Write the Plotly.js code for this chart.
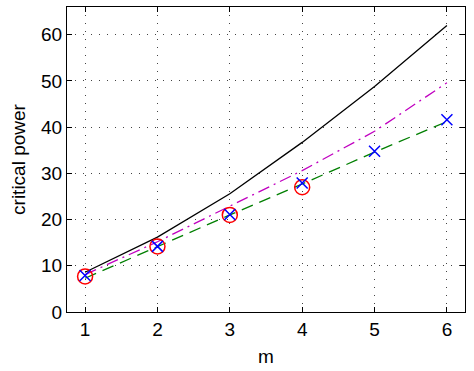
<!DOCTYPE html>
<html><head><meta charset="utf-8">
<script src="https://cdn.plot.ly/plotly-3.0.1.min.js"></script>
<style>html,body{margin:0;padding:0;background:#fff}#chart{width:474px;height:371px}</style>
</head><body><div id="chart"></div>
<script>
var mValues = [1, 2, 3, 4, 5, 6];
var blackSolid = [8.6, 16.2, 25.6, 36.7, 48.8, 62.0];
var magentaDashDot = [8.1, 15.2, 22.9, 30.6, 39.1, 49.6];
var greenDashed = [7.3, 14.2, 21.0, 27.7, 34.6, 41.2];
var blueCrosses = [7.9, 14.2, 21.1, 27.9, 34.8, 41.6];
var redCircleM = [1, 2, 3, 4];
var redCircles = [7.7, 14.2, 21.0, 27.0];
var xTicks = [1, 2, 3, 4, 5, 6];
var yTicks = [0, 10, 20, 30, 40, 50, 60];

var traces = [
  {x: mValues, y: blackSolid, mode: 'lines', line: {color: '#000000', width: 1.3}},
  {x: mValues, y: magentaDashDot, mode: 'lines', line: {color: '#c000c0', width: 1.3, dash: '12px,5px,2px,5px'}},
  {x: mValues, y: greenDashed, mode: 'lines', line: {color: '#007f00', width: 1.3, dash: '12px,7px'}},
  {x: redCircleM, y: redCircles, mode: 'markers', marker: {symbol: 'circle-open', size: 15, color: '#ff0000', line: {width: 1.5, color: '#ff0000'}}},
  {x: mValues, y: blueCrosses, mode: 'markers', marker: {symbol: 'x-thin-open', size: 11, color: '#0000ff', line: {width: 1.5, color: '#0000ff'}}}
];

var fontFam = 'Liberation Sans, Arial, sans-serif';
var axisCommon = {
  showline: true, linecolor: '#000', linewidth: 1, mirror: 'ticks',
  ticks: 'inside', ticklen: 5, tickcolor: '#000', tickwidth: 1,
  showgrid: true, gridcolor: '#444', gridwidth: 1, griddash: '1px,7px',
  zeroline: false, tickfont: {family: fontFam, size: 19, color: '#000'}
};

var layout = {
  width: 474, height: 371,
  margin: {l: 67, r: 9, t: 7, b: 59},
  paper_bgcolor: '#fff', plot_bgcolor: '#fff',
  showlegend: false,
  xaxis: Object.assign({}, axisCommon, {
    range: [0.75, 6.25], tickvals: xTicks, ticktext: xTicks.map(String),
    title: {text: 'm', font: {family: fontFam, size: 19, color: '#000'}, standoff: 10}
  }),
  yaxis: Object.assign({}, axisCommon, {
    range: [0, 66], tickvals: yTicks, ticktext: yTicks.map(String),
    title: {text: 'critical power', font: {family: fontFam, size: 19, color: '#000'}, standoff: 10}
  })
};

Plotly.newPlot('chart', traces, layout, {displayModeBar: false, staticPlot: true});
</script></body></html>
